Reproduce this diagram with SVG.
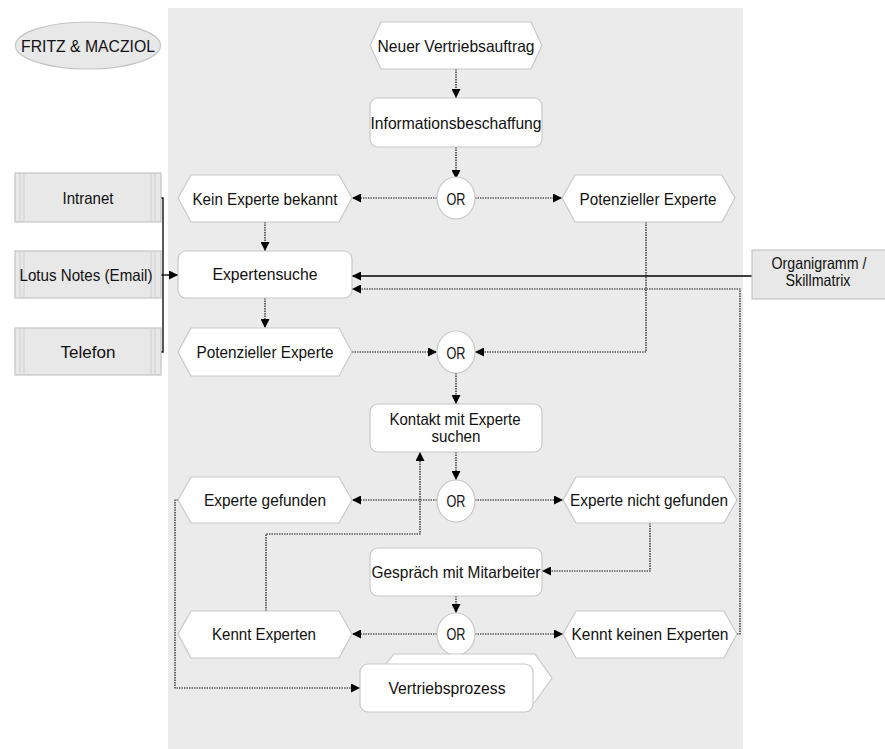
<svg xmlns="http://www.w3.org/2000/svg" width="885" height="749" viewBox="0 0 885 749">
<defs>
<marker id="ah" viewBox="0 0 10 10" refX="10" refY="5" markerWidth="9" markerHeight="9" markerUnits="userSpaceOnUse" orient="auto">
<path d="M0,0 L10,5 L0,10 z" fill="#000"/>
</marker>
<style>
.t{font-family:"Liberation Sans",Arial,sans-serif;font-size:16.5px;fill:#111;text-anchor:middle;dominant-baseline:central}
.n{fill:#fff;stroke:#c8c8c8;stroke-width:1.2}
.g{fill:#e8e8e8;stroke:#c4c4c4;stroke-width:1.2}
.d{fill:none;stroke:#111;stroke-width:1.2;stroke-dasharray:1.5 1}
.s{fill:none;stroke:#000;stroke-width:1.3}
.or{fill:#fff;stroke:#c8c8c8;stroke-width:1.2}
</style>
</defs>
<rect x="0" y="0" width="885" height="749" fill="#fff"/>
<rect id="background" x="168" y="8" width="575" height="741" fill="#ebebeb"/>

<g id="logo"><ellipse cx="88" cy="45.5" rx="72.5" ry="23.5" class="g"/><text class="t" x="88" y="46" textLength="134" lengthAdjust="spacingAndGlyphs">FRITZ &amp; MACZIOL</text></g>

<g id="connectors">
<path class="d" d="M456,69 V98" marker-end="url(#ah)"/>
<path class="d" d="M456,147 V179" marker-end="url(#ah)"/>
<path class="d" d="M437,198 H352" marker-end="url(#ah)"/>
<path class="d" d="M475,198 H562" marker-end="url(#ah)"/>
<path class="d" d="M265,222 V251" marker-end="url(#ah)"/>
<path class="s" d="M161,198 H163 V352 H161"/>
<path class="s" d="M161,275 H178" marker-end="url(#ah)"/>
<path class="s" d="M752,276 H352" marker-end="url(#ah)"/>
<path class="d" d="M265,298 V328" marker-end="url(#ah)"/>
<path class="d" d="M352,352 H437" marker-end="url(#ah)"/>
<path class="d" d="M646,222 V352 H475" marker-end="url(#ah)"/>
<path class="d" d="M456,373 V404" marker-end="url(#ah)"/>
<path class="d" d="M456,452 V480" marker-end="url(#ah)"/>
<path class="d" d="M437,500 H352" marker-end="url(#ah)"/>
<path class="d" d="M475,500 H563" marker-end="url(#ah)"/>
<path class="d" d="M650,523 V571 H542" marker-end="url(#ah)"/>
<path class="d" d="M456,596 V613" marker-end="url(#ah)"/>
<path class="d" d="M437,634 H352" marker-end="url(#ah)"/>
<path class="d" d="M475,634 H563" marker-end="url(#ah)"/>
<path class="d" d="M266,611 V534 H420 V452" marker-end="url(#ah)"/>
<path class="d" d="M737,634 H740 V289 H352" marker-end="url(#ah)"/>
<path class="d" d="M178,500 H175 V688 H360" marker-end="url(#ah)"/>
</g>

<g id="n-neuer"><polygon class="n" points="370,45.5 381,22 531,22 542,45.5 531,69 381,69"/><text class="t" x="456" y="46" textLength="157" lengthAdjust="spacingAndGlyphs">Neuer Vertriebsauftrag</text></g>
<g id="n-info"><rect class="n" x="370" y="98" width="172" height="49" rx="8"/><text class="t" x="456" y="123" textLength="171" lengthAdjust="spacingAndGlyphs">Informationsbeschaffung</text></g>
<g id="or1"><ellipse class="or" cx="456" cy="198" rx="19" ry="21"/><text class="t" x="456" y="199" textLength="19" lengthAdjust="spacingAndGlyphs">OR</text></g>
<g id="n-kein"><polygon class="n" points="178,198 191,175 339,175 352,198 339,222 191,222"/><text class="t" x="265" y="199" textLength="145" lengthAdjust="spacingAndGlyphs">Kein Experte bekannt</text></g>
<g id="n-pot1"><polygon class="n" points="562,198 575,175 722,175 735,198 722,222 575,222"/><text class="t" x="648" y="199" textLength="137" lengthAdjust="spacingAndGlyphs">Potenzieller Experte</text></g>

<g id="n-intranet"><rect class="g" x="15" y="173" width="146" height="49"/><path d="M20,173 V222 M24,173 V222 M151,173 V222 M155,173 V222" stroke="#cfcfcf" stroke-width="1"/><text class="t" x="88" y="198" textLength="51" lengthAdjust="spacingAndGlyphs">Intranet</text></g>
<g id="n-lotus"><rect class="g" x="15" y="251" width="146" height="47"/><path d="M20,251 V298 M24,251 V298 M151,251 V298 M155,251 V298" stroke="#cfcfcf" stroke-width="1"/><text class="t" x="86" y="275" textLength="133" lengthAdjust="spacingAndGlyphs">Lotus Notes (Email)</text></g>
<g id="n-telefon"><rect class="g" x="15" y="328" width="146" height="47"/><path d="M20,328 V375 M24,328 V375 M151,328 V375 M155,328 V375" stroke="#cfcfcf" stroke-width="1"/><text class="t" x="88" y="352" textLength="55" lengthAdjust="spacingAndGlyphs">Telefon</text></g>

<g id="n-suche"><rect class="n" x="178" y="251" width="174" height="47" rx="8"/><text class="t" x="265" y="274" textLength="105" lengthAdjust="spacingAndGlyphs">Expertensuche</text></g>
<g id="n-organigramm"><rect class="g" x="752" y="250" width="140" height="49"/><text class="t" x="819" y="263" textLength="95" lengthAdjust="spacingAndGlyphs">Organigramm /</text><text class="t" x="818" y="280" textLength="65" lengthAdjust="spacingAndGlyphs">Skillmatrix</text></g>

<g id="n-pot2"><polygon class="n" points="178,352 191,328 339,328 352,352 339,376 191,376"/><text class="t" x="265" y="352" textLength="137" lengthAdjust="spacingAndGlyphs">Potenzieller Experte</text></g>
<g id="or2"><ellipse class="or" cx="456" cy="352" rx="19" ry="21"/><text class="t" x="456" y="353" textLength="19" lengthAdjust="spacingAndGlyphs">OR</text></g>

<g id="n-kontakt"><rect class="n" x="370" y="404" width="172" height="48" rx="8"/><text class="t" x="455" y="419" textLength="131" lengthAdjust="spacingAndGlyphs">Kontakt mit Experte</text><text class="t" x="456" y="436" textLength="49" lengthAdjust="spacingAndGlyphs">suchen</text></g>
<g id="or3"><ellipse class="or" cx="456" cy="501" rx="19" ry="21"/><text class="t" x="456" y="501" textLength="19" lengthAdjust="spacingAndGlyphs">OR</text></g>
<g id="n-gefunden"><polygon class="n" points="178,500 191,477 339,477 352,500 339,523 191,523"/><text class="t" x="265" y="500" textLength="122" lengthAdjust="spacingAndGlyphs">Experte gefunden</text></g>
<g id="n-nichtgefunden"><polygon class="n" points="563,500 576,477 724,477 737,500 724,523 576,523"/><text class="t" x="649" y="500" textLength="158" lengthAdjust="spacingAndGlyphs">Experte nicht gefunden</text></g>

<g id="n-gespraech"><rect class="n" x="370" y="548" width="172" height="48" rx="8"/><text class="t" x="456" y="572" textLength="169" lengthAdjust="spacingAndGlyphs">Gespräch mit Mitarbeiter</text></g>
<g id="or4"><ellipse class="or" cx="456" cy="634" rx="19" ry="21"/><text class="t" x="456" y="634" textLength="19" lengthAdjust="spacingAndGlyphs">OR</text></g>
<g id="n-kennt"><polygon class="n" points="178,634 191,611 339,611 352,634 339,658 191,658"/><text class="t" x="264" y="634" textLength="104" lengthAdjust="spacingAndGlyphs">Kennt Experten</text></g>
<g id="n-kenntkeinen"><polygon class="n" points="563,634 576,611 724,611 737,634 724,658 576,658"/><text class="t" x="650" y="634" textLength="157" lengthAdjust="spacingAndGlyphs">Kennt keinen Experten</text></g>

<g id="n-vertrieb"><polygon class="n" points="386,664 394,654 535,654 552,678 535,702 386,702"/><rect class="n" x="360" y="664" width="173" height="48" rx="8"/><text class="t" x="447" y="688" textLength="117" lengthAdjust="spacingAndGlyphs">Vertriebsprozess</text></g>
</svg>
